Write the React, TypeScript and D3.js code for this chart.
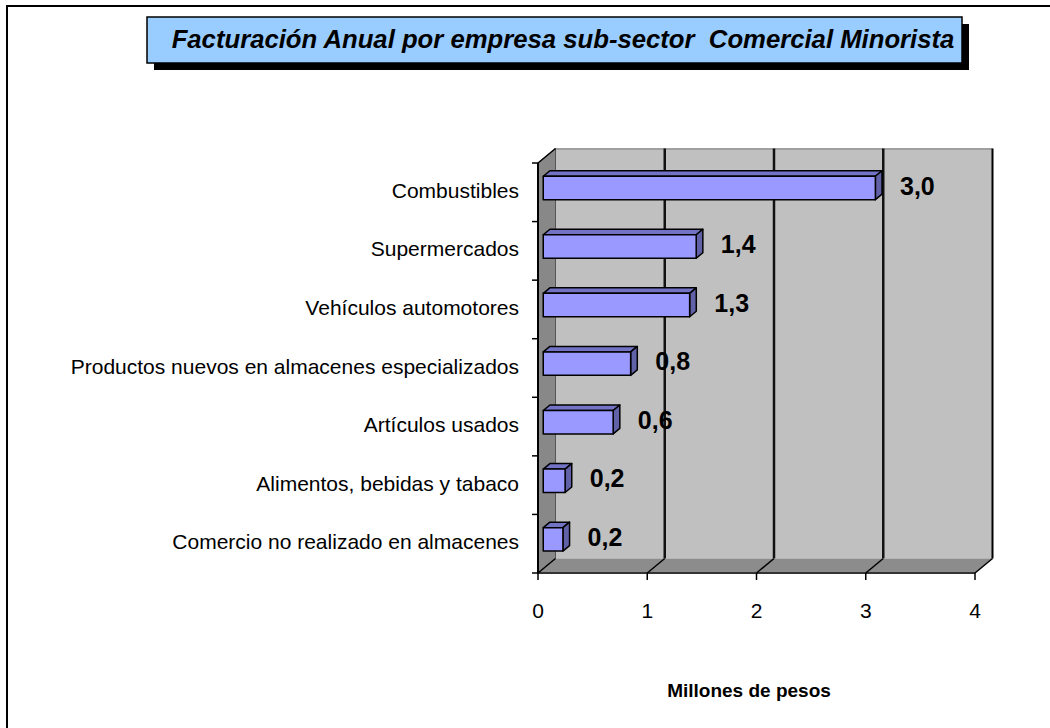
import React from 'react';
import * as d3 from 'd3';

// sub-sectors, top to bottom as drawn
const categories = [
  'Combustibles',
  'Supermercados',
  'Vehículos automotores',
  'Productos nuevos en almacenes especializados',
  'Artículos usados',
  'Alimentos, bebidas y tabaco',
  'Comercio no realizado en almacenes',
];
const values = [3.04, 1.4, 1.34, 0.8, 0.64, 0.2, 0.18];
const xTicks = [0, 1, 2, 3, 4];
const title = 'Facturación Anual por empresa sub-sector  Comercial Minorista';
const axisTitle = 'Millones de pesos';

const W = 1050;
const H = 728;
const font = '"Liberation Sans", Arial, sans-serif';

// plot frame (front plane) and depth offset
const left = 538, right = 975, top = 163, bottom = 573;
const DX = 17.5, DY = -14.5;
const f1 = 0.3, f2 = 0.68; // bar front / back depth fraction

const fmt = (v: number) => d3.format('.1f')(v).replace('.', ',');

export default function App() {
  const x = d3.scaleLinear().domain([0, 4]).range([left, right]);
  const y = d3.scaleBand<string>().domain(categories).range([top, bottom])
    .paddingInner(0.6).paddingOuter(0.3);
  const bw = y.bandwidth();
  const step = y.step();
  const bdx = (f2 - f1) * DX, bdy = (f2 - f1) * DY;
  const pts = (p: number[][]) => p.map(d => d.join(',')).join(' ');

  return (
    <svg width={W} height={H} style={{ position: 'absolute', left: 0, top: 0, background: '#fff' }}>
      <rect x={7} y={6} width={1100} height={800} fill="#fff" stroke="#000" strokeWidth={2} />

      {/* title box */}
      <rect x={154} y={24} width={815} height={46} fill="#000" />
      <rect x={147} y={17} width={815} height={46} fill="#99ccff" stroke="#000" strokeWidth={1.5} />
      <text x={563} y={41} textAnchor="middle" dominantBaseline="middle" fontFamily={font}
        fontSize={25.7} fontWeight="bold" fontStyle="italic" style={{ whiteSpace: 'pre' }}>{title}</text>

      {/* back wall */}
      <rect x={x(0) + DX} y={top + DY} width={x(4) - x(0)} height={bottom - top} fill="#c0c0c0" />
      <line x1={x(0) + DX} x2={x(4) + DX} y1={top + DY + 0.5} y2={top + DY + 0.5} stroke="#a0a0a0" strokeWidth={2} />
      {xTicks.slice(1).map(t => (
        <line key={t} x1={x(t) + DX} x2={x(t) + DX} y1={top + DY} y2={bottom + DY}
          stroke={t === 4 ? '#000' : '#111'} strokeWidth={t === 4 ? 2 : 2.5} />
      ))}
      {/* side wall */}
      <polygon points={pts([[left, top], [left + DX, top + DY], [left + DX, bottom + DY], [left, bottom]])}
        fill="#888" stroke="#555" strokeWidth={1} />
      {/* floor */}
      <polygon points={pts([[left, bottom], [left + DX, bottom + DY], [right + DX, bottom + DY], [right, bottom]])}
        fill="#8c8c8c" />
      <line x1={left} x2={right} y1={bottom} y2={bottom} stroke="#333" strokeWidth={2} />
      {xTicks.map(t => (
        <line key={t} x1={x(t)} y1={bottom} x2={x(t) + DX} y2={bottom + DY} stroke="#000" strokeWidth={1.5} />
      ))}
      <line x1={left} y1={top} x2={left + DX} y2={top + DY} stroke="#000" strokeWidth={1.5} />

      {/* axes */}
      <line x1={left} x2={left} y1={top} y2={bottom} stroke="#000" strokeWidth={2} />
      {d3.range(categories.length + 1).map(i => (
        <line key={i} x1={left - 6} x2={left} y1={top + i * step} y2={top + i * step} stroke="#000" strokeWidth={1.5} />
      ))}
      {xTicks.map(t => (
        <g key={t}>
          <line x1={x(t)} x2={x(t)} y1={bottom} y2={bottom + 7} stroke="#000" strokeWidth={1.5} />
          <text x={x(t)} y={612} textAnchor="middle" dominantBaseline="middle" fontFamily={font} fontSize={21}>{t}</text>
        </g>
      ))}
      {categories.map(c => (
        <text key={c} x={519} y={(y(c) ?? 0) + bw / 2} textAnchor="end" dominantBaseline="middle"
          fontFamily={font} fontSize={21}>{c}</text>
      ))}
      <text x={749} y={692} textAnchor="middle" dominantBaseline="middle" fontFamily={font}
        fontSize={19} fontWeight="bold">{axisTitle}</text>

      {/* bars */}
      {categories.map((c, i) => {
        const fx0 = x(0) + f1 * DX;
        const fx1 = x(values[i]) + f1 * DX;
        const fy0 = (y(c) ?? 0) + f1 * DY;
        const fy1 = fy0 + bw;
        return (
          <g key={c} stroke="#000" strokeWidth={1.5} strokeLinejoin="round">
            <polygon points={pts([[fx0, fy0], [fx0 + bdx, fy0 + bdy], [fx1 + bdx, fy0 + bdy], [fx1, fy0]])} fill="#7373c6" />
            <polygon points={pts([[fx1, fy0], [fx1 + bdx, fy0 + bdy], [fx1 + bdx, fy1 + bdy], [fx1, fy1]])} fill="#6161a8" />
            <rect x={fx0} y={fy0} width={fx1 - fx0} height={bw} fill="#9999ff" />
            <text x={fx1 + bdx + 18} y={fy0 + bw / 2} dominantBaseline="middle" stroke="none"
              fontFamily={font} fontSize={25} fontWeight="bold">{fmt(values[i])}</text>
          </g>
        );
      })}
    </svg>
  );
}
